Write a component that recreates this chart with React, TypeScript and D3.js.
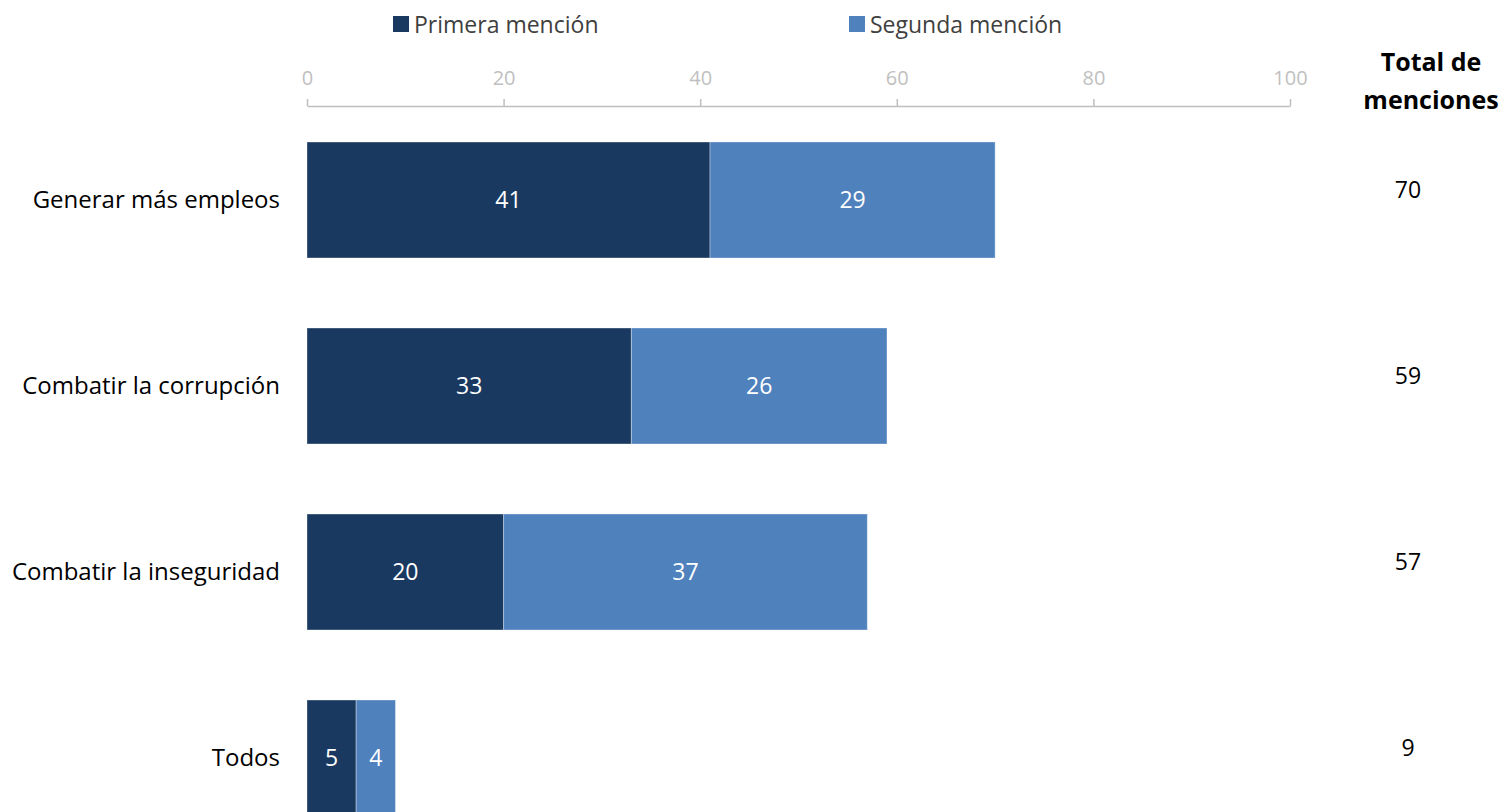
import { useEffect, useRef } from "react";
import * as d3 from "d3";

const categories = [
  "Generar más empleos",
  "Combatir la corrupción",
  "Combatir la inseguridad",
  "Todos",
];
const primera = [41, 33, 20, 5];
const segunda = [29, 26, 37, 4];
const totals = [70, 59, 57, 9];
const xTicks = [0, 20, 40, 60, 80, 100];
const seriesNames = ["Primera mención", "Segunda mención"];
const colors = ["#1a3960", "#4f81bd"];

const FONT = "'Open Sans', 'Noto Sans', sans-serif";

const App = () => {
  const ref = useRef<SVGSVGElement | null>(null);

  useEffect(() => {
    if (!ref.current) return;
    document.body.style.margin = "0";

    const width = 1499;
    const height = 812;

    const svg = d3.select(ref.current);
    svg.selectAll("*").remove();
    svg.attr("width", width).attr("height", height);

    const x = d3.scaleLinear().domain([0, 100]).range([307, 1290]);
    const y = d3
      .scaleBand()
      .domain(categories)
      .range([107, 107 + 186 * 4])
      .paddingInner(70 / 186)
      .paddingOuter(35 / 186);

    // eje superior
    const axis = svg
      .append("g")
      .attr("transform", `translate(0,106)`)
      .call(d3.axisTop(x).tickValues(xTicks).tickSize(7).tickSizeOuter(0).tickPadding(14));
    axis.select(".domain").attr("stroke", "#bfbfbf").attr("stroke-width", 1.5);
    axis.selectAll(".tick line").attr("stroke", "#bfbfbf").attr("stroke-width", 1.5);
    axis
      .selectAll("text")
      .attr("fill", "#bfbfbf")
      .attr("font-size", 20)
      .attr("font-family", FONT);

    // barras
    const rows = categories.map((c, i) => ({
      cat: c,
      a: primera[i],
      b: segunda[i],
      total: totals[i],
    }));

    const g = svg.append("g");
    rows.forEach((d) => {
      const y0 = y(d.cat)!;
      const bw = y.bandwidth();
      const segs = [
        { x0: 0, x1: d.a, v: d.a, c: colors[0] },
        { x0: d.a, x1: d.a + d.b, v: d.b, c: colors[1] },
      ];
      segs.forEach((s) => {
        g.append("rect")
          .attr("x", x(s.x0))
          .attr("y", y0)
          .attr("width", x(s.x1) - x(s.x0))
          .attr("height", bw)
          .attr("fill", s.c)
          .attr("stroke", "#ffffff")
          .attr("stroke-opacity", 0.35)
          .attr("stroke-width", 1);
        g.append("text")
          .attr("x", (x(s.x0) + x(s.x1)) / 2)
          .attr("y", y0 + bw / 2)
          .attr("dy", "0.35em")
          .attr("text-anchor", "middle")
          .attr("fill", "#ffffff")
          .attr("font-size", 23)
          .attr("font-family", FONT)
          .text(s.v);
      });

      g.append("text")
        .attr("x", 280)
        .attr("y", y0 + bw / 2)
        .attr("dy", "0.35em")
        .attr("text-anchor", "end")
        .attr("fill", "#000000")
        .attr("font-size", 24)
        .attr("font-family", FONT)
        .text(d.cat);

      g.append("text")
        .attr("x", 1408)
        .attr("y", y0 + bw / 2 - 10)
        .attr("dy", "0.35em")
        .attr("text-anchor", "middle")
        .attr("fill", "#000000")
        .attr("font-size", 23)
        .attr("font-family", FONT)
        .text(d.total);
    });

    // encabezado total
    ["Total de", "menciones"].forEach((t, i) => {
      svg
        .append("text")
        .attr("x", 1431)
        .attr("y", 62 + i * 38)
        .attr("dy", "0.35em")
        .attr("text-anchor", "middle")
        .attr("font-weight", 700)
        .attr("font-size", 25)
        .attr("font-family", FONT)
        .attr("fill", "#000000")
        .text(t);
    });

    // leyenda
    const legendX = [393, 849];
    seriesNames.forEach((name, i) => {
      const lg = svg.append("g").attr("transform", `translate(${legendX[i]},16)`);
      lg.append("rect").attr("width", 16).attr("height", 16).attr("fill", colors[i]);
      lg.append("text")
        .attr("x", 21)
        .attr("y", 9)
        .attr("dy", "0.35em")
        .attr("fill", "#404040")
        .attr("font-size", 23)
        .attr("font-family", FONT)
        .text(name);
    });
  }, []);

  return <svg ref={ref} style={{ display: "block" }}></svg>;
};

export default App;
